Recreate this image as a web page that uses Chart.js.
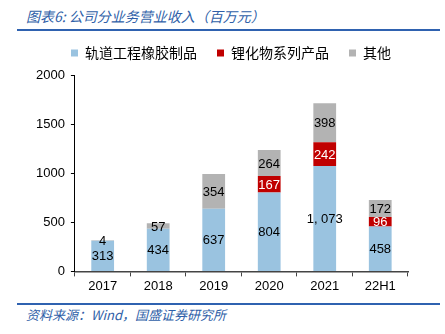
<!DOCTYPE html>
<html>
<head>
<meta charset="utf-8">
<script src="https://cdn.jsdelivr.net/npm/chart.js@4.4.0/dist/chart.umd.min.js"></script>
<style>
  body { margin:0; background:#fff; width:445px; height:334px; overflow:hidden; position:relative; font-family:"Liberation Sans", Arial, sans-serif; }
  #title { position:absolute; left:26px; top:6px; font:italic 14px "Noto Sans CJK SC", sans-serif; color:#2F5FA8; }
  .rule { position:absolute; left:17px; width:423px; height:2px; background:#2F62B0; }
  #foot { position:absolute; left:26px; top:305px; font:italic 13px "Noto Sans CJK SC", sans-serif; color:#2F5FA8; }
  #wrap { position:absolute; left:0; top:26px; width:445px; height:270px; }
</style>
</head>
<body>
<div id="title">图表6: 公司分业务营业收入（百万元）</div>
<div class="rule" style="top:29px"></div>
<div id="wrap"><canvas id="myChart" width="445" height="270"></canvas></div>
<div class="rule" style="top:303px"></div>
<div id="foot">资料来源：Wind，国盛证券研究所</div>
<script>
// 카테고리 / 시리즈
var years = ['2017','2018','2019','2020','2021','22H1'];
var rubber = [313, 434, 637, 804, 1073, 458];
var lithium = [0, 0, 0, 167, 242, 96];
var others = [4, 57, 354, 264, 398, 172];
var yTicks = [0, 500, 1000, 1500, 2000];

function fmt(v){
	return v.toLocaleString('en-US').replace(/,/g, ', ');
}

// 범례 아래 여백 + 오른쪽으로 이동
var legendGap = {
	id: 'legendGap',
	beforeInit: function(chart){
		var fit = chart.legend.fit;
		chart.legend.fit = function(){
			fit.bind(chart.legend)();
			this.height += 5;
		};
	},
	afterLayout: function(chart){
		chart.legend.left += 12;
		chart.legend.right += 12;
	}
};

// 막대 위 숫자 표시
var barLabels = {
	id: 'barLabels',
	afterDatasetsDraw: function(chart){
		var ctx = chart.ctx;
		ctx.save();
		ctx.font = '13px "Liberation Sans", Arial, sans-serif';
		ctx.textAlign = 'center';
		ctx.textBaseline = 'middle';
		chart.data.datasets.forEach(function(ds, i){
			var meta = chart.getDatasetMeta(i);
			meta.data.forEach(function(bar, j){
				var v = ds.data[j];
				if(!v) return;
				ctx.fillStyle = ds.labelColor;
				ctx.fillText(fmt(v), bar.x, (bar.y + bar.base) / 2 + 1);
			});
		});
		ctx.restore();
	}
};

new Chart('myChart', {
	type: 'bar',
	data: {
		labels: years,
		datasets: [
			{ label: '轨道工程橡胶制品', data: rubber, backgroundColor: '#9AC3E0', labelColor: '#000' },
			{ label: '锂化物系列产品', data: lithium, backgroundColor: '#C00000', labelColor: '#fff' },
			{ label: '其他', data: others, backgroundColor: '#B3B3B3', labelColor: '#000' }
		]
	},
	plugins: [legendGap, barLabels],
	options: {
		responsive: false,
		animation: false,
		categoryPercentage: 1,
		barPercentage: 0.41,
		layout: { padding: { left: 30, right: 37, top: 0, bottom: 0 } },
		plugins: {
			legend: {
				position: 'top',
				labels: {
					boxWidth: 7, boxHeight: 7, padding: 20,
					color: '#000',
					font: { family: '"Noto Sans CJK SC", sans-serif', size: 14 }
				}
			},
			tooltip: { enabled: false }
		},
		scales: {
			x: {
				stacked: true,
				grid: { drawOnChartArea: false, tickLength: 5, color: '#444' },
				border: { color: '#444', width: 1.5 },
				ticks: { color: '#000', maxRotation: 0, font: { family: '"Liberation Sans", Arial', size: 13 }, padding: 2 }
			},
			y: {
				stacked: true,
				min: 0, max: 2000,
				afterBuildTicks: function(axis){ axis.ticks = yTicks.map(function(v){ return { value: v }; }); },
				grid: { drawOnChartArea: false, tickLength: 4, color: '#000' },
				border: { color: '#000' },
				ticks: { color: '#000', font: { family: '"Liberation Sans", Arial', size: 13 }, padding: 6,
					callback: function(v){ return String(v); } }
			}
		}
	}
});
</script>
</body>
</html>
